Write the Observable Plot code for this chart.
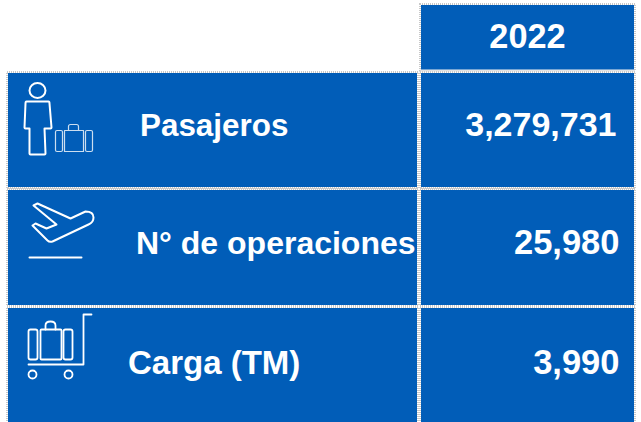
<!DOCTYPE html>
<html>
<head>
<meta charset="utf-8">
<script src="https://cdn.jsdelivr.net/npm/d3@7"></script>
<script src="https://cdn.jsdelivr.net/npm/@observablehq/plot@0.6"></script>
<style>html,body{margin:0;padding:0;background:#fff}svg{display:block}</style>
</head>
<body>
<div id="chart"></div>
<script>
const year = "2022";
const categories = ["Pasajeros", "N° de operaciones", "Carga (TM)"];
const values = [3279731, 25980, 3990];

// Table layout, in the table's own units
const W = 641, H = 422;
const labelColumn = [8, 417], valueColumn = [421, 634];
const headerRow = [5, 69.5];
const rowEdges = [[73, 187], [190, 305], [308, 426]];
const labelX = [139.5, 135.5, 127.5], labelSize = [31.4, 32, 33];
const baselines = [135, 253, 373], valueRight = [616, 619, 619], valueSize = [34, 34.5, 34.5];
const blue = "#015DB8", gridLine = "#c8c8c8";

const svgUri = (box, body) => "data:image/svg+xml," + encodeURIComponent(
  `<svg xmlns="http://www.w3.org/2000/svg" viewBox="${box.join(" ")}" fill="none" stroke="#fff" stroke-linejoin="round" stroke-linecap="round">${body}</svg>`);
const iconBoxes = [[20, 78, 76, 80], [25, 200, 72, 60], [24, 311, 70, 70]];
const iconBodies = [
  `<g stroke-width="2"><ellipse cx="37" cy="90" rx="8" ry="7.5"/><path d="M26 101H48Q49 101 49 103L51 127Q51 128 50 128H44L45 153Q45 154 44 154H30Q29 154 29 153V128H25Q24 128 24 127L25 103Q25 101 26 101Z"/></g>
   <g stroke-width="1.2" opacity=".8"><rect x="55" y="130" width="7" height="21" rx="1.5"/><rect x="64" y="130" width="19" height="21"/><rect x="85" y="130" width="7" height="21" rx="1.5"/><path d="M68 130V126Q68 124 70 124H76Q78 124 78 126V130"/></g>`,
  `<g stroke-width="2"><path d="M33 205L37 203L70 218L85 211Q93 211 93 217Q93 222 88 224L52 241Q49 242 47 240L32 225L35 223L46 228L56 224Z"/><path d="M29 257H81"/></g>`,
  `<g stroke-width="1.8"><rect x="28" y="329" width="9" height="30" rx="2"/><rect x="40" y="329" width="21" height="30" rx="1"/><rect x="63" y="329" width="9" height="30" rx="2"/><path d="M45 329V325Q45 321 50 321Q55 321 55 325V329"/><path d="M28 364H83V314H91"/><circle cx="32" cy="374" r="4"/><circle cx="68" cy="374" r="4"/></g>`
];

const rows = categories.map((c, i) => ({
  category: c, value: values[i], y1: rowEdges[i][0], y2: rowEdges[i][1],
  labelX: labelX[i], labelSize: labelSize[i], baseline: baselines[i],
  valueRight: valueRight[i], valueSize: valueSize[i],
  box: iconBoxes[i], icon: svgUri(iconBoxes[i], iconBodies[i])
}));
const cells = [
  {x1: valueColumn[0], x2: valueColumn[1], y1: headerRow[0], y2: headerRow[1]},
  ...rows.flatMap(r => [
    {x1: labelColumn[0], x2: labelColumn[1], y1: r.y1, y2: r.y2},
    {x1: valueColumn[0], x2: valueColumn[1], y1: r.y1, y2: r.y2}
  ])
];
const fontFamily = "Liberation Sans, Arial, sans-serif";
const edge = {x1: "x1", x2: "x2", y1: "y1", y2: "y2"};

const plot = Plot.plot({
  width: W, height: H, margin: 0,
  style: {background: "#fff"},
  x: {domain: [0, W], range: [0, W], axis: null},
  y: {domain: [0, H], range: [0, H], axis: null},
  marks: [
    Plot.rect(cells, {...edge, inset: -1, fill: "none", stroke: gridLine, strokeWidth: 2, strokeDasharray: "1,1"}),
    Plot.rect(cells, {...edge, fill: blue}),
    Plot.text([year], {x: (valueColumn[0] + valueColumn[1]) / 2 - 0.5, y: 47, text: d => d,
      fontFamily, fontWeight: "bold", fontSize: 34.3, fill: "#fff", lineAnchor: "bottom"}),
    Plot.text(rows, {x: "labelX", y: "baseline", text: "category", fontFamily, fontWeight: "bold",
      fontSize: d => d.labelSize, fill: "#fff", textAnchor: "start", lineAnchor: "bottom"}),
    Plot.text(rows, {x: "valueRight", y: "baseline", text: d => d3.format(",")(d.value), fontFamily,
      fontWeight: "bold", fontSize: d => d.valueSize, fill: "#fff", textAnchor: "end", lineAnchor: "bottom"}),
    Plot.image(rows, {x: d => d.box[0] + d.box[2] / 2, y: d => d.box[1] + d.box[3] / 2,
      width: d => d.box[2], height: d => d.box[3], src: "icon"})
  ]
});
document.getElementById("chart").append(plot);
</script>
</body>
</html>
